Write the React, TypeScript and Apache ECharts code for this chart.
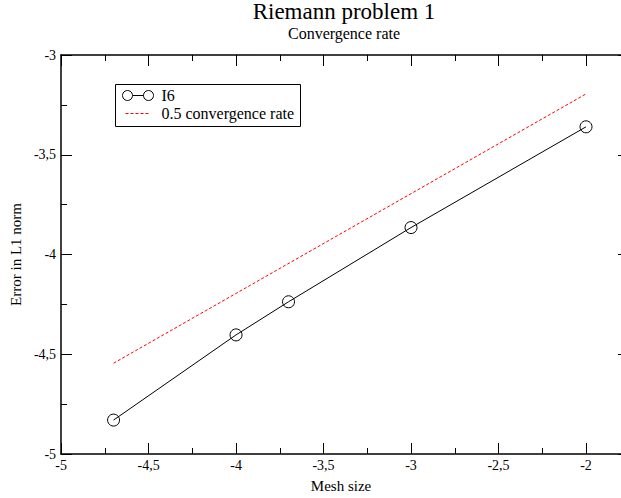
import React, { useEffect, useRef } from "react";
import * as echarts from "echarts";

// Mesh size (log) and error in L1 norm (log) for the I6 scheme
const meshSizes = [-4.7, -4.0, -3.7, -3.0, -2.0];
const l1Errors = [-4.83, -4.403, -4.237, -3.865, -3.36];

// Reference slope line, 0.5 convergence rate
const rateX = [-4.7, -2.0];
const rateY = [-4.545, -3.195];

const xTicks = [-5, -4.5, -4, -3.5, -3, -2.5, -2];
const yTicks = [-5, -4.5, -4, -3.5, -3];

const FONT = "'Liberation Serif', 'Times New Roman', serif";

const fmt = (v: number) => String(v).replace(".", ",");
const xLabel = (v: number) =>
  xTicks.some((t) => Math.abs(t - v) < 1e-9) ? fmt(v) : "";
const yLabel = (v: number) =>
  yTicks.some((t) => Math.abs(t - v) < 1e-9) ? fmt(v) : "";

export default function App() {
  const ref = useRef<HTMLDivElement>(null);

  useEffect(() => {
    if (!ref.current) return;
    const chart = echarts.init(ref.current, null, { renderer: "svg" });

    const line = { show: true, onZero: false, lineStyle: { color: "#000", width: 1.5 } };
    const tickCommon = {
      axisLine: line,
      axisTick: { show: true, inside: true, length: 11, lineStyle: { color: "#000", width: 1 } },
      minorTick: { show: true, splitNumber: 2, length: 6, lineStyle: { color: "#000", width: 1 } },
      splitLine: { show: false },
    };

    chart.setOption({
      animation: false,
      backgroundColor: "#fff",
      title: [
        {
          text: "Riemann problem 1",
          left: 344,
          top: 0,
          padding: 0,
          textAlign: "center",
          textStyle: { fontFamily: FONT, fontSize: 23, fontWeight: "normal", color: "#000" },
        },
        {
          text: "Convergence rate",
          left: 344,
          top: 25,
          padding: 0,
          textAlign: "center",
          textStyle: { fontFamily: FONT, fontSize: 16, fontWeight: "normal", color: "#000" },
        },
      ],
      grid: { left: 58.3, top: 55, width: 562.8, height: 400, containLabel: false },
      xAxis: [
        {
          type: "value",
          position: "bottom",
          min: -5,
          max: -1.8,
          interval: 0.5,
          name: "Mesh size",
          nameLocation: "middle",
          nameGap: 24,
          nameTextStyle: { fontFamily: FONT, fontSize: 15, color: "#000" },
          axisLabel: {
            formatter: xLabel,
            fontFamily: FONT,
            fontSize: 14,
            color: "#000",
            margin: 4,
            showMaxLabel: false,
          },
          ...tickCommon,
        },
        {
          type: "value",
          position: "top",
          min: -5,
          max: -1.8,
          interval: 0.5,
          axisLabel: { show: false },
          ...tickCommon,
        },
      ],
      yAxis: [
        {
          type: "value",
          position: "left",
          min: -5,
          max: -3,
          interval: 0.5,
          name: "Error in L1 norm",
          nameLocation: "middle",
          nameGap: 34,
          nameTextStyle: { fontFamily: FONT, fontSize: 15, color: "#000" },
          axisLabel: {
            formatter: yLabel,
            fontFamily: FONT,
            fontSize: 14,
            color: "#000",
            margin: 5,
          },
          ...tickCommon,
        },
        {
          // right frame edge sits on the page border; only the tick stubs show
          type: "value",
          position: "right",
          min: -5,
          max: -3,
          interval: 0.5,
          axisLabel: { show: false },
          axisLine: { show: false },
          axisTick: { show: true, inside: true, length: 3, lineStyle: { color: "#000", width: 1 } },
          minorTick: { show: false },
          splitLine: { show: false },
        },
      ],
      series: [
        {
          name: "I6",
          type: "line",
          data: meshSizes.map((x, i) => [x, l1Errors[i]]),
          symbol: "circle",
          symbolSize: 12,
          showSymbol: true,
          lineStyle: { color: "#000", width: 1 },
          itemStyle: { color: "rgba(0,0,0,0)", borderColor: "#000", borderWidth: 1 },
          z: 3,
        },
        {
          name: "0.5 convergence rate",
          type: "line",
          data: rateX.map((x, i) => [x, rateY[i]]),
          symbol: "none",
          lineStyle: { color: "#ff0000", width: 1, type: [3, 2] },
          z: 2,
        },
      ],
      graphic: [
        {
          type: "group",
          left: 115,
          top: 84,
          children: [
            {
              type: "rect",
              shape: { x: 0, y: 0, width: 185, height: 42 },
              style: { fill: "#fff", stroke: "#000", lineWidth: 1 },
            },
            {
              type: "line",
              shape: { x1: 12, y1: 11, x2: 33, y2: 11 },
              style: { stroke: "#000", lineWidth: 1 },
            },
            {
              type: "circle",
              shape: { cx: 12, cy: 11, r: 5 },
              style: { fill: "#fff", stroke: "#000", lineWidth: 1 },
            },
            {
              type: "circle",
              shape: { cx: 33, cy: 11, r: 5 },
              style: { fill: "#fff", stroke: "#000", lineWidth: 1 },
            },
            {
              type: "text",
              x: 46,
              y: 11,
              style: {
                text: "I6",
                fontFamily: FONT,
                fontSize: 16,
                fill: "#000",
                verticalAlign: "middle",
              },
            },
            {
              type: "line",
              shape: { x1: 10, y1: 29, x2: 35, y2: 29 },
              style: { stroke: "#ff0000", lineWidth: 1, lineDash: [3, 2] },
            },
            {
              type: "text",
              x: 46,
              y: 29,
              style: {
                text: "0.5 convergence rate",
                fontFamily: FONT,
                fontSize: 16,
                fill: "#000",
                verticalAlign: "middle",
              },
            },
          ],
        },
      ],
    });

    return () => chart.dispose();
  }, []);

  return (
    <div
      ref={ref}
      style={{ position: "fixed", left: 0, top: 0, width: 621, height: 498 }}
    />
  );
}
